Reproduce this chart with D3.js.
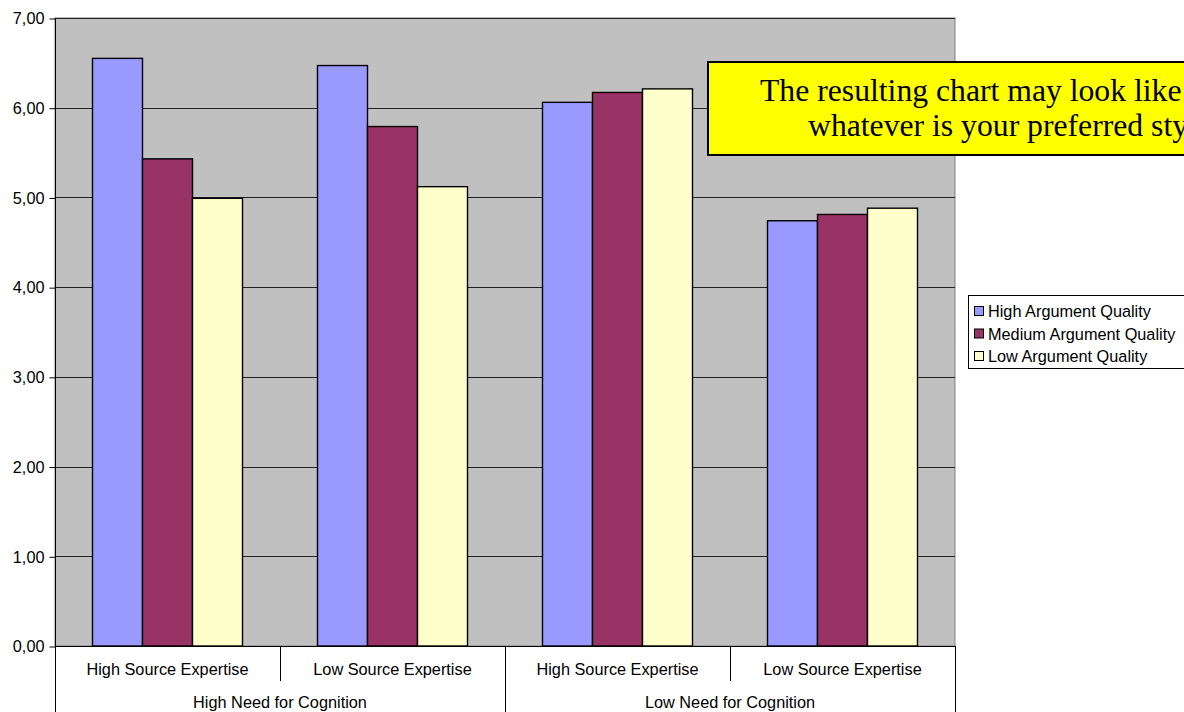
<!DOCTYPE html>
<html>
<head>
    <meta charset="utf-8">
    <style>
        body { margin: 0; background: white; }
        svg { display: block; overflow: hidden; }
        text { font-family: Arial, 'Liberation Sans', sans-serif; }
    </style>
</head>
<body>
<svg width="1184" height="712"></svg>

<script src="https://d3js.org/d3.v7.min.js"></script>
<script>
    // values
    let outerGroups = ["High Need for Cognition", "Low Need for Cognition"]
    let innerGroups = ["High Source Expertise", "Low Source Expertise"]
    let seriesNames = ["High Argument Quality", "Medium Argument Quality", "Low Argument Quality"]
    let highQuality = [6.55, 6.47, 6.06, 4.74]
    let mediumQuality = [5.43, 5.79, 6.17, 4.81]
    let lowQuality = [4.99, 5.12, 6.21, 4.88]
    let yTicks = [0, 1, 2, 3, 4, 5, 6, 7]
    let noteLines = ["The resulting chart may look like this, or", "whatever is your preferred style."]

    let colors = ["#9999FF", "#993366", "#FFFFCC"]
    let seriesValues = [highQuality, mediumQuality, lowQuality]

    // one entry per cluster of bars
    let clusters = []
    outerGroups.forEach((o, i) => {
        innerGroups.forEach((g, j) => {
            clusters.push({ id: i + "-" + j, outer: o, label: g })
        })
    })

    let svg = d3.select("svg")

    let plotLeft = 55, plotRight = 955, plotTop = 18, plotBottom = 646

    let x0 = d3.scaleBand()
        .domain(clusters.map(d => d.id))
        .range([plotLeft, plotRight])

    let x1 = d3.scaleBand()
        .domain(seriesNames)
        .range([0, x0.bandwidth()])
        .paddingOuter(0.75)

    let xOuter = d3.scaleBand()
        .domain(outerGroups)
        .range([plotLeft, plotRight])

    let y = d3.scaleLinear()
        .domain([0, 7])
        .range([plotBottom, plotTop])

    // plot background
    svg.append("rect")
        .attr("x", plotLeft)
        .attr("y", plotTop)
        .attr("width", plotRight - plotLeft)
        .attr("height", plotBottom - plotTop)
        .style("fill", "#C0C0C0")
        .style("stroke", "#808080")
        .style("stroke-width", 1)

    // gridlines
    svg.append("g")
        .selectAll("line")
        .data(yTicks)
        .join("line")
        .attr("x1", plotLeft)
        .attr("x2", plotRight)
        .attr("y1", d => Math.round(y(d)) + 0.5)
        .attr("y2", d => Math.round(y(d)) + 0.5)
        .style("stroke", "#222")
        .style("stroke-width", 1)

    // y axis
    let yAxis = d3.axisLeft(y)
        .tickValues(yTicks)
        .tickSize(6)
        .tickPadding(5)
        .tickFormat(d => d3.format(".2f")(d).replace(".", ","))

    let yg = svg.append("g")
        .attr("transform", "translate(" + (plotLeft + 0.5) + ",0.5)")
        .call(yAxis)
    yg.select(".domain").remove()
    yg.selectAll(".tick line").style("stroke", "#000")
    yg.selectAll(".tick text")
        .style("font-size", "16.3px")
        .style("fill", "#000")
        .style("font-family", "Arial, 'Liberation Sans', sans-serif")

    // bars
    let series = svg.append("g")
        .selectAll("g")
        .data(seriesValues)
        .join("g")
        .style("fill", (d, i) => colors[i])

    series.selectAll("rect")
        .data((vals, i) => vals.map((v, k) => ({ v: v, s: seriesNames[i], c: clusters[k].id })))
        .join("rect")
        .attr("x", d => x0(d.c) + x1(d.s))
        .attr("y", d => y(d.v))
        .attr("width", x1.bandwidth())
        .attr("height", d => y(0) - y(d.v))
        .style("stroke", "#000")
        .style("stroke-width", 1.4)

    // left axis line and bottom axis line
    svg.append("line")
        .attr("x1", plotLeft + 0.5).attr("x2", plotLeft + 0.5)
        .attr("y1", plotTop).attr("y2", 712)
        .style("stroke", "#000")
    svg.append("line")
        .attr("x1", plotLeft).attr("x2", plotRight)
        .attr("y1", plotBottom + 0.5).attr("y2", plotBottom + 0.5)
        .style("stroke", "#000")

    // category separators (short between inner groups, long between outer)
    svg.append("g")
        .selectAll("line")
        .data(clusters)
        .join("line")
        .attr("x1", d => Math.round(x0(d.id) + x0.bandwidth()) + 0.5)
        .attr("x2", d => Math.round(x0(d.id) + x0.bandwidth()) + 0.5)
        .attr("y1", plotBottom)
        .attr("y2", (d, i) => i % 2 == 0 ? 681 : 712)
        .style("stroke", "#000")

    // category labels
    svg.append("g")
        .selectAll("text")
        .data(clusters)
        .join("text")
        .attr("x", d => x0(d.id) + x0.bandwidth() / 2)
        .attr("y", 675)
        .attr("text-anchor", "middle")
        .style("font-size", "16.3px")
        .text(d => d.label)

    svg.append("g")
        .selectAll("text")
        .data(outerGroups)
        .join("text")
        .attr("x", d => xOuter(d) + xOuter.bandwidth() / 2)
        .attr("y", 708)
        .attr("text-anchor", "middle")
        .style("font-size", "16.3px")
        .text(d => d)

    // note box (runs past the right edge, as in the original)
    svg.append("rect")
        .attr("x", 708)
        .attr("y", 62)
        .attr("width", 600)
        .attr("height", 93)
        .style("fill", "#FFFF00")
        .style("stroke", "#000")
        .style("stroke-width", 2)

    svg.append("g")
        .selectAll("text")
        .data(noteLines)
        .join("text")
        .attr("x", (d, i) => i == 0 ? 760 : 808)
        .attr("y", (d, i) => 101 + i * 35)
        .style("font-family", "'Times New Roman', 'Liberation Serif', serif")
        .style("font-size", "31.7px")
        .text(d => d)

    // legend
    let legend = svg.append("g")
    legend.append("rect")
        .attr("x", 968.5)
        .attr("y", 295.5)
        .attr("width", 300)
        .attr("height", 73)
        .style("fill", "white")
        .style("stroke", "#000")
        .style("stroke-width", 1)

    let items = legend.selectAll(".item")
        .data(seriesNames)
        .join("g")
        .attr("class", "item")
        .attr("transform", (d, i) => "translate(974," + (311 + i * 22.5) + ")")

    items.append("rect")
        .attr("x", 0.5)
        .attr("y", -4.5)
        .attr("width", 9)
        .attr("height", 9)
        .style("fill", (d, i) => colors[i])
        .style("stroke", "#000")
        .style("stroke-width", 1)

    items.append("text")
        .attr("x", 14)
        .attr("y", 6)
        .style("font-size", "16.3px")
        .text(d => d)
</script>
</body>
</html>
